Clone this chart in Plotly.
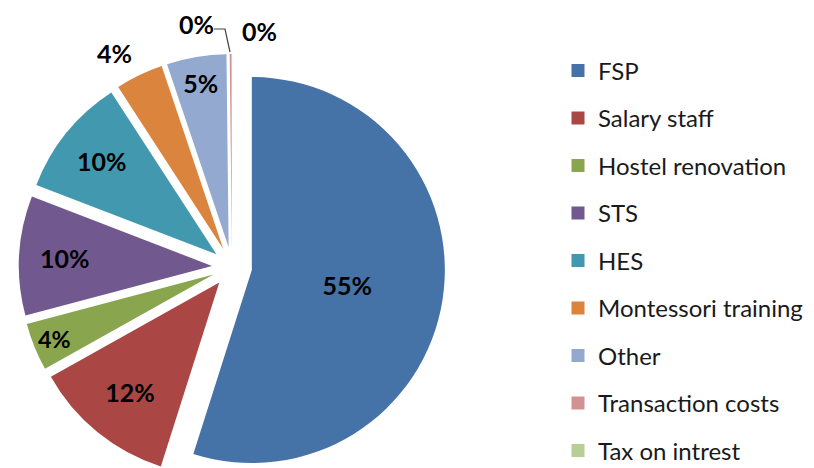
import plotly.graph_objects as go

categories = ["FSP", "Salary staff", "Hostel renovation", "STS", "HES",
              "Montessori training", "Other", "Transaction costs", "Tax on intrest"]
values = [55, 12, 4, 10, 10, 4, 5, 0.15, 0.03]
colors = ["#4572A7", "#AA4643", "#89A54E", "#71588F", "#4198AF",
          "#DB843D", "#93A9CF", "#D19392", "#B9CD96"]
text_positions = ["inside", "inside", "inside", "inside", "inside",
                  "none", "inside", "none", "none"]

# figure size (the page adds an 8px body margin, so screen = figure + 8)
W, H = 814, 500
OFF = 8


def px(x):
    """screen pixel x -> paper fraction"""
    return (x - OFF) / W


def py(y):
    """screen pixel y -> paper fraction"""
    return 1 - (y - OFF) / H


R_PX = 193
PULL = 0.104
half = R_PX * (1 + PULL)
CX, CY = 232, 267  # screen coords of pie centre

fig = go.Figure()
fig.add_trace(go.Pie(
    labels=categories,
    values=values,
    sort=False,
    direction="clockwise",
    rotation=0,
    pull=[PULL] * len(values),
    marker=dict(colors=colors, line=dict(width=0)),
    texttemplate="%{percent:.0%}",
    textposition=text_positions,
    insidetextorientation="horizontal",
    textfont=dict(family="Lato", size=25, color="black", weight="bold"),
    domain=dict(x=[px(CX - half), px(CX + half)], y=[py(CY + half), py(CY - half)]),
    showlegend=False,
    hoverinfo="label+percent",
))

# legend entries (one per category, spaced like the original)
for i, (c, col) in enumerate(zip(categories, colors)):
    fig.add_trace(go.Scatter(
        x=[None], y=[None], mode="markers", name=c,
        marker=dict(symbol="square", size=13, color=col),
        legendgroup=f"g{i}", showlegend=True,
    ))

total = sum(values)
pct = [f"{round(v / total * 100)}%" for v in values]

lab_font = dict(family="Lato", size=25, color="black", weight="bold")
annotations = [
    dict(x=px(114), y=py(53), xref="paper", yref="paper", text=pct[5],
         showarrow=False, font=lab_font, xanchor="center", yanchor="middle"),
    dict(x=px(196), y=py(24), xref="paper", yref="paper", text=pct[7],
         showarrow=False, font=lab_font, xanchor="center", yanchor="middle"),
    dict(x=px(259), y=py(31), xref="paper", yref="paper", text=pct[8],
         showarrow=False, font=lab_font, xanchor="center", yanchor="middle"),
]
shapes = [
    dict(type="path", xref="paper", yref="paper",
         path=f"M {px(214)},{py(29)} L {px(225)},{py(29)} L {px(230)},{py(52)}",
         line=dict(color="#404040", width=1.2)),
]

fig.update_layout(
    width=W, height=H,
    margin=dict(l=0, r=0, t=0, b=0, autoexpand=False),
    paper_bgcolor="white", plot_bgcolor="white",
    xaxis=dict(visible=False), yaxis=dict(visible=False),
    legend=dict(x=(578 - OFF - 20) / W, y=1 - 40.5 / H, xanchor="left", yanchor="top",
                font=dict(family="Lato", size=24, color="#1a1a1a"),
                tracegroupgap=13.3, bgcolor="rgba(0,0,0,0)"),
    annotations=annotations,
    shapes=shapes,
)

fig.write_html("out.html")
